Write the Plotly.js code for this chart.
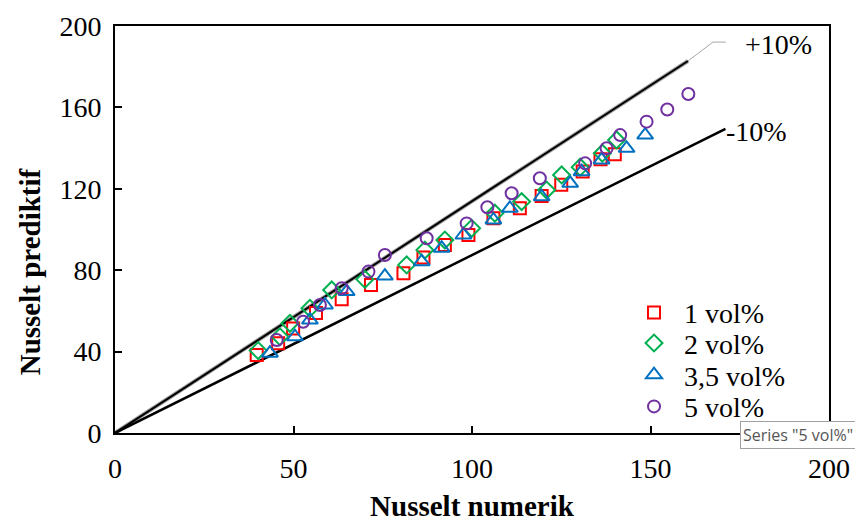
<!DOCTYPE html>
<html>
<head>
<meta charset="utf-8">
<script src="https://cdn.plot.ly/plotly-3.0.1.min.js"></script>
<style>html,body{margin:0;padding:0;background:#fff;}#chart{width:855px;height:522px;}</style>
</head>
<body>
<div id="chart"></div>
<script>
// Series: Nusselt numerik (x) vs Nusselt prediktif (y)
const seriesNames = ["1 vol%", "2 vol%", "3,5 vol%", "5 vol%"];
const s1X = [39.7,45.7,49.9,56.3,63.5,71.7,80.8,86.4,92.4,99.0,106.0,113.4,119.5,125.0,131.0,136.0,140.0];
const s1Y = [38.3,44.1,51.4,59.0,65.7,72.7,78.5,86.3,92.4,97.3,105.5,110.4,116.5,122.0,128.5,134.5,137.0];
const s2X = [40.1,46.2,49.0,54.6,60.7,70.0,81.7,86.8,92.4,99.9,106.4,113.9,120.9,125.1,130.3,136.5,140.5];
const s2Y = [40.5,47.3,53.9,61.3,70.3,75.5,82.6,89.9,94.8,100.6,108.0,113.7,119.4,126.8,130.6,137.5,144.0];
const s3X = [43.4,50.4,54.6,58.8,64.9,75.6,85.9,91.5,97.6,106.0,110.6,119.5,127.5,130.7,136.3,143.3,148.5];
const s3Y = [39.2,47.3,55.5,62.9,69.5,77.1,84.2,90.8,97.3,104.7,110.4,116.1,122.7,128.4,134.2,139.9,146.4];
const s4X = [45.3,52.7,57.4,63.5,71.0,75.6,87.3,98.5,104.3,111.1,119.0,131.7,137.7,141.5,148.9,154.7,160.6];
const s4Y = [45.7,54.7,62.9,71.1,79.3,87.5,95.7,103.0,110.9,117.8,125.2,132.5,139.9,146.4,153.0,159.0,166.6];
// Deviation lines (+10% / -10%)
const upperX = [0, 160.5];
const upperY = [0, 182.8];
const lowerX = [0, 171.0];
const lowerY = [0, 149.5];
const lineLabels = ["+10%", "-10%"];
// Ticks
const xTicks = [0, 50, 100, 150, 200];
const yTicks = [0, 40, 80, 120, 160, 200];
const xTitle = "Nusselt numerik";
const yTitle = "Nusselt prediktif";
const tooltipText = 'Series "5 vol%"';

const serif = '"Liberation Serif", "Times New Roman", serif';
const colors = ["#FF0000", "#00B050", "#0070C0", "#7030A0"];
const symbols = ["square-open", "diamond-open", "triangle-up-open", "circle-open"];
const sizes = [12, 13, 14, 12];
const xs = [s1X, s2X, s3X, s4X];
const ys = [s1Y, s2Y, s3Y, s4Y];
const legendIds = ["legend", "legend2", "legend3", "legend4"];

const traces = [
  {x: upperX, y: upperY, mode: "lines", line: {color: "#a0a0a0", width: 4}, showlegend: false, hoverinfo: "skip"},
  {x: upperX, y: upperY, mode: "lines", line: {color: "#000", width: 2}, showlegend: false, hoverinfo: "skip"},
  {x: lowerX, y: lowerY, mode: "lines", line: {color: "#000", width: 2.5}, showlegend: false, hoverinfo: "skip"}
];
for (let i = 0; i < 4; i++) {
  traces.push({
    x: xs[i], y: ys[i], mode: "markers", name: seriesNames[i],
    legend: legendIds[i],
    marker: {symbol: symbols[i], size: sizes[i], color: colors[i], line: {color: colors[i], width: 2}},
    cliponaxis: false
  });
}

const rowY = [0.2956, 0.2204, 0.1425, 0.0646];
function legendCfg(y) {
  return {x: 0.7129, y: y, xanchor: "left", yanchor: "middle", bgcolor: "rgba(0,0,0,0)",
    font: {family: serif, size: 28, color: "#000"}, itemwidth: 50, borderwidth: 0};
}

const layout = {
  width: 855, height: 522,
  margin: {l: 115, r: 26, t: 26, b: 89},
  paper_bgcolor: "#fff", plot_bgcolor: "#fff",
  font: {family: serif, color: "#000"},
  xaxis: {
    range: [0, 200], tickvals: xTicks, ticktext: xTicks.map(String),
    showgrid: false, zeroline: false, showline: true, linecolor: "#000", linewidth: 2, mirror: true,
    ticks: "inside", ticklen: 7, tickwidth: 2, tickcolor: "#000",
    tickfont: {family: serif, size: 28, color: "#000"},
    ticklabelstandoff: 9,
    title: {text: "<b>" + xTitle + "</b>", font: {family: serif, size: 29, color: "#000"}, standoff: 18}
  },
  yaxis: {
    range: [0, 200], tickvals: yTicks, ticktext: yTicks.map(String),
    showgrid: false, zeroline: false, showline: true, linecolor: "#000", linewidth: 2, mirror: true,
    ticks: "inside", ticklen: 7, tickwidth: 2, tickcolor: "#000",
    tickfont: {family: serif, size: 28, color: "#000"},
    ticklabelstandoff: 6
  },
  legend: legendCfg(rowY[0]),
  legend2: legendCfg(rowY[1]),
  legend3: legendCfg(rowY[2]),
  legend4: legendCfg(rowY[3]),
  shapes: [
    {type: "path", xref: "x", yref: "y", path: "M 160.5 182.8 L 167.5 192.1 L 171.1 192.1", line: {color: "#a6a6a6", width: 1}},
    {type: "rect", xref: "paper", yref: "paper", x0: 0.8796, x1: 1.05, y0: -0.0393, y1: 0.0172, fillcolor: "#d4d4d4", line: {width: 0}, layer: "above"}
  ],
  annotations: [
    {xref: "paper", yref: "paper", x: -0.119, y: 0.395, xanchor: "center", yanchor: "middle", textangle: -90,
     text: "<b>" + yTitle + "</b>", showarrow: false, font: {family: serif, size: 29, color: "#000"}},
    {xref: "x", yref: "y", x: 175.9, y: 190.7, xanchor: "left", yanchor: "middle", text: lineLabels[0], showarrow: false,
     font: {family: serif, size: 28, color: "#000"}},
    {xref: "x", yref: "y", x: 170.6, y: 148.4, xanchor: "left", yanchor: "middle", text: lineLabels[1], showarrow: false,
     font: {family: serif, size: 28, color: "#000"}},
    {xref: "paper", yref: "paper", x: 0.8754, y: -0.0037, xanchor: "left", yanchor: "middle", text: tooltipText, showarrow: false,
     font: {family: '"Open Sans", "Noto Sans", sans-serif', size: 16, color: "#555"}, bgcolor: "#fff", bordercolor: "#a0a0a0", borderwidth: 1, borderpad: 2}
  ]
};

Plotly.newPlot("chart", traces, layout, {staticPlot: true, displayModeBar: false});
</script>
</body>
</html>
